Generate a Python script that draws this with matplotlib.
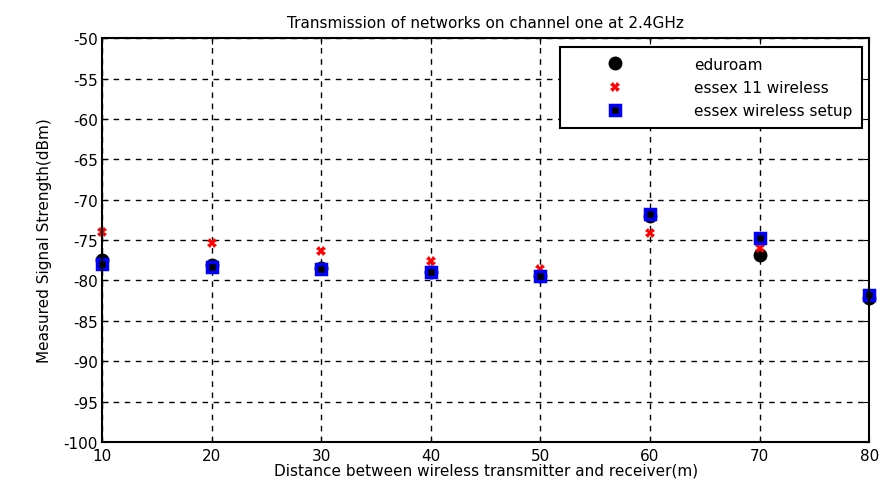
import numpy as np
import matplotlib.pyplot as plt

plt.rcParams['font.family'] = ['DejaVu Sans']
plt.rcParams['axes.unicode_minus'] = False

"""DATA"""
distance = [10, 20, 30, 40, 50, 60, 70, 80]          # [m]
eduroam = [-77.5, -78.1, -78.5, -79.0, -79.5, -72.0, -76.8, -82.2]
essex11 = [-74.0, -75.3, -76.4, -77.6, -78.6, -74.1, -76.0, -81.9]
essex_setup = [-77.9, -78.3, -78.6, -79.0, -79.4, -71.8, -74.7, -81.8]

"""PLOTTING"""
fig = plt.figure(figsize=(8.82, 4.89), dpi=100)
ax = fig.add_axes([0.1156, 0.094, 0.870, 0.826])

ax.plot(distance, eduroam, 'o', color='black', markersize=9, label='eduroam', clip_on=False)
ax.plot(distance, essex11, 'X', color='red', markersize=7, markeredgewidth=0,
        label='essex 11 wireless', clip_on=False)
ax.plot(distance, essex_setup, 's', markerfacecolor='black', markeredgecolor='blue',
        markeredgewidth=2.5, markersize=7, label='essex wireless setup', clip_on=False)

ax.set_xlim(10, 80)
ax.set_ylim(-100, -50)
ax.set_xticks(np.arange(10, 81, 10))
ax.set_yticks(np.arange(-100, -49, 5))
ax.grid(True, linestyle=(0, (4, 4)), color='black', linewidth=1)
ax.tick_params(direction='in', top=True, right=True, labelsize=11, length=4)
ax.tick_params(axis='x', pad=4)
ax.tick_params(axis='y', pad=3)
for s in ax.spines.values():
    s.set_linewidth(1.5)

ax.set_title("Transmission of networks on channel one at 2.4GHz", fontsize=11, pad=8)
ax.set_xlabel("Distance between wireless transmitter and receiver(m)", fontsize=11, labelpad=0)
ax.set_ylabel("Measured Signal Strength(dBm)", fontsize=11, labelpad=8)

leg = ax.legend(loc='upper right', bbox_to_anchor=(0.99, 0.977), fontsize=11,
                fancybox=False, edgecolor='black', framealpha=1, borderpad=0.6,
                handletextpad=2.2, labelspacing=0.55, borderaxespad=0, handlelength=6)
leg.get_frame().set_linewidth(1.5)

fig.savefig('out.png', dpi=100)
